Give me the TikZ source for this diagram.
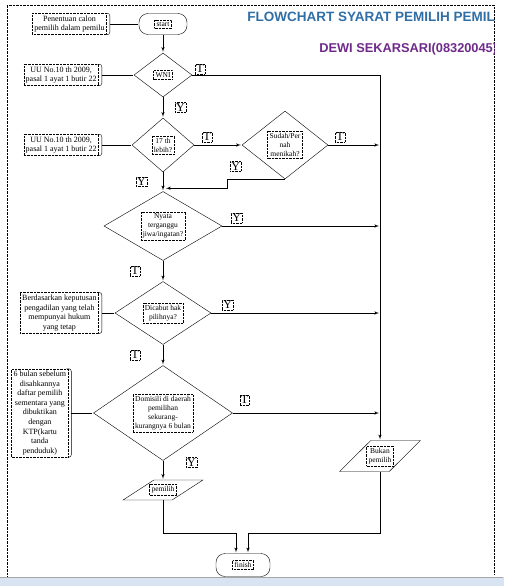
\documentclass[tikz,border=0pt]{standalone}
\usepackage{fontspec}
\setmainfont{Liberation Serif}
\newfontfamily\judulfont{Liberation Sans}
\usepackage[usenames,svgnames,dvipsnames]{xcolor}
\usetikzlibrary{arrows,shapes.geometric,positioning}
\definecolor{judulbiru}{HTML}{2F6FA6}
\definecolor{namaungu}{HTML}{6E2A8A}
\definecolor{barbiru}{HTML}{D8E4F2}

\begin{document}
\begin{tikzpicture}[x=1pt,y=-1pt,->,>=latex',shorten >=1pt,semithick,
    term/.style={draw,-,thin,rounded corners=9pt,minimum width=48pt,minimum height=21pt},
    dec/.style={draw,diamond,thin,inner sep=0pt},
    io/.style={draw,trapezium,thin,trapezium left angle=67,trapezium right angle=113,
               trapezium stretches=true,inner sep=2pt},
    txt/.style={draw,densely dotted,thin,align=center,inner sep=2pt,
                font=\fontsize{7.5}{9}\selectfont},
    note/.style={draw,densely dotted,thin,align=center,inner sep=2pt,
                 font=\fontsize{8}{9.8}\selectfont},
    yn/.style={draw,densely dotted,thin,inner sep=1pt,font=\fontsize{12}{12}\selectfont}]
  \useasboundingbox (0,0) rectangle (504,586);

  % bingkai dan judul
  \fill[barbiru] (0,577) rectangle (504,586);
  \draw[-,thin,color=gray!70] (0,577) -- (504,577);
  \draw[-,thin,densely dotted] (7,576) -- (7,5) -- (494,5) -- (494,576);
  \begin{scope}
    \clip (7,5) rectangle (494,576);
    \node[anchor=west,text=judulbiru,inner sep=0pt,font=\judulfont\bfseries\fontsize{13.5}{13.5}\selectfont]
      (judul) at (247,17) {FLOWCHART SYARAT PEMILIH PEMILU};
    \node[anchor=west,text=namaungu,inner sep=0pt,font=\judulfont\bfseries\fontsize{12.8}{12.8}\selectfont]
      (nama) at (319,49) {DEWI SEKARSARI(08320045)};
  \end{scope}

  \node[term,label={[txt]center:start}] (start) at (163,24) {};
  \node[dec,minimum width=58pt,minimum height=44pt,label={[txt]center:WNI}]
       (wni) [below of=start,node distance=51pt] {};
  \node[dec,minimum width=62pt,minimum height=54pt,label={[txt]center:{17 th\\lebih?}}]
       (usia) [below of=wni,node distance=70pt] {};
  \node[dec,minimum width=86pt,minimum height=68pt,label={[txt]center:{Sudah/Per\\nah\\menikah?}}]
       (nikah) [right of=usia,node distance=122pt] {};
  \node[dec,minimum width=118pt,minimum height=69pt,label={[txt]center:{Nyata\\terganggu\\jiwa/ingatan?}}]
       (jiwa) [below of=usia,node distance=81pt] {};
  \node[dec,minimum width=96pt,minimum height=63pt,label={[txt]center:{Dicabut hak\\pilihnya?}}]
       (hak) [below of=jiwa,node distance=87pt] {};
  \node[dec,minimum width=139pt,minimum height=95pt,
        label={[txt]center:{Domisili di daerah\\pemilihan\\sekurang-\\kurangnya 6 bulan}}]
       (domisili) [below of=hak,node distance=100pt] {};
  \node[io,minimum width=80pt,minimum height=20pt,label={[txt]center:pemilih}]
       (pemilih) [below of=domisili,node distance=77pt] {\strut};
  \node[io,minimum width=81pt,minimum height=31pt,label={[txt]center:{Bukan\\pemilih}}]
       (bukan) at (380,456) {\strut};
  \node[term,minimum width=54pt,minimum height=23pt,label={[txt]center:finish}]
       (finish) at (243,565) {};

  \node[note] (ket) [left=32pt of start] {Penentuan calon\\pemilih dalam pemilu};
  \node[note] (uu1) [left=35pt of wni] {UU No.10 th 2009,\\pasal 1 ayat 1 butir 22};
  \node[note] (uu2) [left=33pt of usia] {UU No.10 th 2009,\\pasal 1 ayat 1 butir 22};
  \node[note] (putusan) [left=16pt of hak]
       {Berdasarkan keputusan\\pengadilan yang telah\\mempunyai hukum\\yang tetap};
  \node[note,font=\fontsize{8}{9.6}\selectfont] (ktp) [left=25pt of domisili]
       {6 bulan sebelum\\disahkannya\\daftar pemilih\\sementara yang\\dibuktikan\\dengan\\KTP(kartu\\tanda\\penduduk)};

  \foreach \n/\t in {ket/start,uu1/wni,uu2/usia,putusan/hak,ktp/domisili} {
    \draw[-,thin,rounded corners=2.5pt] ([xshift=-2pt]\n.north east) -| ([xshift=3pt]\n.east)
         |- ([xshift=-2pt]\n.south east);
    \draw[-,thin] ([xshift=3pt]\n.east) -- (\t.west);
  }

  \coordinate (gabung) at ([yshift=3pt]jiwa.north);

  \path (start)    edge (wni)
        (wni)      edge node[yn,right=12pt] {Y} (usia)
        (usia)     edge node[yn,pos=0,anchor=south west,xshift=8pt,yshift=3pt] {T} (nikah)
        (usia)     edge node[yn,left=16pt] {Y} (jiwa)
        (jiwa)     edge node[yn,left=23pt] {T} (hak)
        (hak)      edge node[yn,left=23pt] {T} (domisili)
        (domisili) edge node[yn,pos=0.1,right=23pt] {Y} (pemilih);

  \draw (wni.east) -| node[yn,pos=0,anchor=south west,xshift=3pt,yshift=1pt] {T} (bukan.north);
  \draw (nikah.east) -- node[yn,pos=0,anchor=south west,xshift=7pt,yshift=3pt] {T}
        (nikah.east -| bukan.north);
  \draw[shorten >=3pt] (nikah.south) -- node[yn,pos=0.85,anchor=south,yshift=8pt] {Y}
        ++(-58,0) |- (gabung);
  \draw (jiwa.east) -- node[yn,pos=0,anchor=south west,xshift=9pt,yshift=3pt] {Y}
        (jiwa.east -| bukan.north);
  \draw (hak.east) -- node[yn,pos=0,anchor=south west,xshift=11pt,yshift=3pt] {Y}
        (hak.east -| bukan.north);
  \draw (domisili.east) -- node[yn,pos=0,anchor=south west,xshift=7pt,yshift=8pt] {T}
        (domisili.east -| bukan.north);
  \draw (pemilih.south) |- ([xshift=-7pt,yshift=20pt]finish.north) -- ([xshift=-7pt]finish.north);
  \draw (bukan.south) |- ([xshift=5pt,yshift=20pt]finish.north) -- ([xshift=5pt]finish.north);
\end{tikzpicture}
\end{document}
